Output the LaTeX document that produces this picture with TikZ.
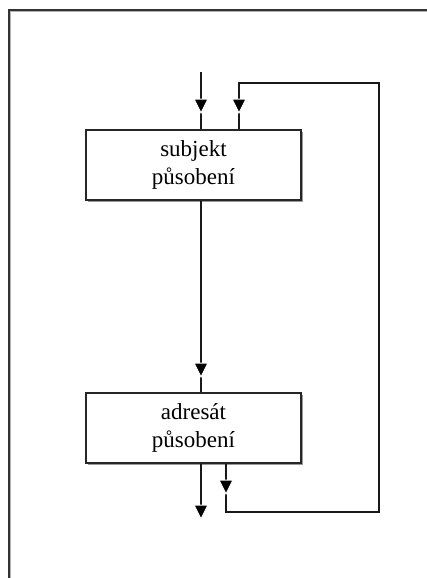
\documentclass[tikz,border=0pt]{standalone}
\usepackage{fontspec}
\setmainfont{Liberation Serif}
\usetikzlibrary{shadows}
\begin{document}
\begin{tikzpicture}[x=1pt,y=-1pt,
  box/.style={draw=black!85,line width=1.5pt,fill=white,minimum width=215pt,minimum height=70pt,
    inner sep=0pt,align=center,font=\fontsize{23}{28}\selectfont,
    drop shadow={shadow xshift=2pt,shadow yshift=-2pt,fill=black!40,opacity=1}},
  flow/.style={draw=black!90,line width=1.8pt},
  flowshadow/.style={draw=black!30,line width=1.8pt},
  tri/.pic={\filldraw[fill=black,draw=white,line width=1pt] (-7,-1) -- (7,-1) -- (0,13) -- cycle;}
]
\useasboundingbox (0,0) rectangle (427,578);
\clip (0,0) rectangle (427,578);
\fill[white] (0,0) rectangle (427,578);
% frame
\draw[black!30,line width=1.4pt] (10.5,600) -- (10.5,11.5) -- (440,11.5);
\draw[black!80,line width=1.4pt] (9,600) -- (9,10) -- (440,10);
% boxes
\node[box] (s) at (193.5,165) {subjekt\\působení};
\node[box] (a) at (193.5,428) {adresát\\působení};
% coordinates
\coordinate (in) at (201,72);
\coordinate (out) at (201,506);
\coordinate (f1) at (226,512);
\coordinate (f2) at (379,512);
\coordinate (f3) at (379,83);
\coordinate (f4) at (239,83);
% connectors
\draw[flow] (in) -- (in |- s.north);
\draw[flow] (s.south -| in) -- (a.north -| in);
\draw[flow] (a.south -| in) -- (out);
\draw[flow] (a.south -| f1) -- (f1) -- (f2) -- (f3) -- (f4) -- (f4 |- s.north);
% arrowheads
\pic at (201,100) {tri};
\pic at (239,100) {tri};
\pic at (201,364) {tri};
\pic at (226,481) {tri};
\pic at (201,506) {tri};
\end{tikzpicture}
\end{document}
